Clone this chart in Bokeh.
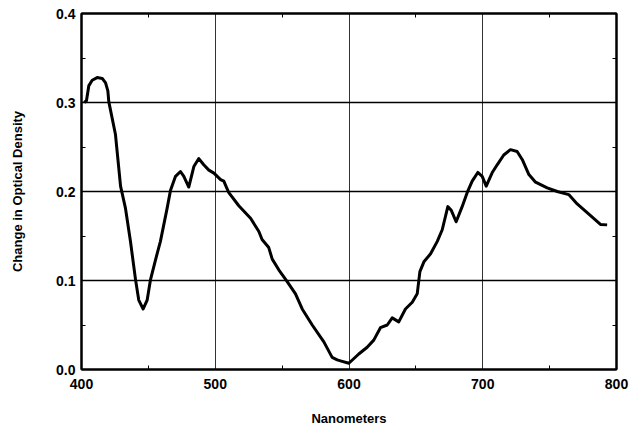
from bokeh.plotting import figure
from bokeh.models import Range1d, LinearAxis, FixedTicker, PrintfTickFormatter, ColumnDataSource
from bokeh.embed import file_html
from bokeh.resources import INLINE

# Data
wavelength_nm = [402, 403.7, 405.5, 408, 411.7, 415.5, 418, 419.7, 420.4, 425.4, 429.2, 432.9,
                 436.6, 440.4, 442.8, 446.1, 449.1, 451.6, 455.3, 459, 464, 466.5, 470.3, 474,
                 476.5, 480.2, 484, 487.7, 491.4, 495.2, 499, 504, 506.4, 510, 517.6, 526.4,
                 532.6, 535, 540, 542.6, 547.5, 553.8, 560, 565, 572.5, 581.2, 587.4, 591.2,
                 593.6, 599.9, 607.3, 613.6, 618.5, 623.5, 628.6, 632.3, 637.2, 642.2, 647.3,
                 651, 653, 656, 661, 666, 669.7, 673.9, 676.4, 680.1, 684.6, 688.4, 692.1,
                 696.3, 699.6, 702.6, 707, 710.8, 715.7, 720.7, 725.7, 729.5, 734.5, 739.5,
                 748.2, 755.7, 764.3, 770.6, 780.6, 788, 793]
delta_od = [0.300, 0.302, 0.319, 0.325, 0.328, 0.327, 0.322, 0.313, 0.301, 0.264, 0.206, 0.181,
            0.144, 0.101, 0.078, 0.068, 0.078, 0.101, 0.123, 0.144, 0.181, 0.201, 0.217, 0.2225,
            0.217, 0.205, 0.228, 0.237, 0.230, 0.224, 0.2207, 0.2134, 0.2116, 0.199, 0.184, 0.170,
            0.155, 0.146, 0.137, 0.124, 0.112, 0.0988, 0.085, 0.068, 0.050, 0.031, 0.0136, 0.0108,
            0.0097, 0.007, 0.0174, 0.025, 0.033, 0.047, 0.050, 0.058, 0.0535, 0.068, 0.0756,
            0.085, 0.110, 0.121, 0.130, 0.144, 0.157, 0.183, 0.179, 0.166, 0.183, 0.199, 0.2116,
            0.2214, 0.217, 0.206, 0.221, 0.230, 0.241, 0.247, 0.245, 0.236, 0.219, 0.2105,
            0.204, 0.200, 0.1965, 0.186, 0.173, 0.163, 0.1625]

x_ticks = [400, 500, 600, 700, 800]
x_minor = [450, 550, 650, 750]
y_ticks = [0.0, 0.1, 0.2, 0.3, 0.4]
y_minor = [0.05, 0.15, 0.25, 0.35]
y_right_ticks = [0.05, 0.1, 0.15, 0.2, 0.25, 0.3, 0.35]

FONT = "Liberation Sans"

p = figure(width=631, height=428, x_range=Range1d(400, 800), y_range=Range1d(0, 0.4),
           output_backend="svg", toolbar_location=None,
           min_border_left=81, min_border_right=15, min_border_top=13, min_border_bottom=58,
           x_axis_label="Nanometers", y_axis_label="Change in Optical Density")
p.background_fill_color = "white"
p.border_fill_color = "white"
p.outline_line_color = "black"
p.outline_line_width = 2

p.xaxis.ticker = FixedTicker(ticks=x_ticks, minor_ticks=x_minor)
p.yaxis.ticker = FixedTicker(ticks=y_ticks, minor_ticks=y_minor)
p.yaxis.formatter = PrintfTickFormatter(format="%.1f")

for ax in (p.xaxis[0], p.yaxis[0]):
    ax.axis_line_color = "black"
    ax.axis_line_width = 2
    ax.major_tick_in = 0
    ax.major_tick_out = 0
    ax.minor_tick_in = 4
    ax.minor_tick_out = 0
    ax.minor_tick_line_color = "black"
    ax.major_label_text_font = FONT
    ax.major_label_text_font_style = "bold"
    ax.major_label_text_font_size = "14px"
    ax.major_label_text_color = "black"
    ax.axis_label_text_font = FONT
    ax.axis_label_text_font_style = "bold"
    ax.axis_label_text_font_size = "13px"
    ax.axis_label_text_color = "black"

p.xaxis.major_label_standoff = 9
p.yaxis.major_label_standoff = 6
p.xaxis.axis_label_standoff = 19
p.yaxis.axis_label_standoff = 28

right = LinearAxis(ticker=FixedTicker(ticks=[], minor_ticks=y_right_ticks))
top = LinearAxis(ticker=FixedTicker(ticks=[], minor_ticks=x_minor))
for ax in (right, top):
    ax.axis_line_color = "black"
    ax.axis_line_width = 2
    ax.major_tick_in = 0
    ax.major_tick_out = 0
    ax.minor_tick_in = 4
    ax.minor_tick_out = 0
    ax.major_label_text_font_size = "0px"
    ax.major_label_standoff = 0
p.add_layout(right, "right")
p.add_layout(top, "above")

p.xgrid.ticker = FixedTicker(ticks=x_ticks)
p.ygrid.ticker = FixedTicker(ticks=y_ticks)
p.xgrid.grid_line_color = "black"
p.ygrid.grid_line_color = "black"
p.xgrid.grid_line_width = 1
p.ygrid.grid_line_width = 1.3
p.xgrid.grid_line_alpha = 0.8
p.ygrid.grid_line_alpha = 1.0

src = ColumnDataSource(data=dict(x=wavelength_nm, y=delta_od))
p.line("x", "y", source=src, line_color="black", line_width=3, line_join="round")

open("out.html", "w").write(file_html(p, INLINE))
